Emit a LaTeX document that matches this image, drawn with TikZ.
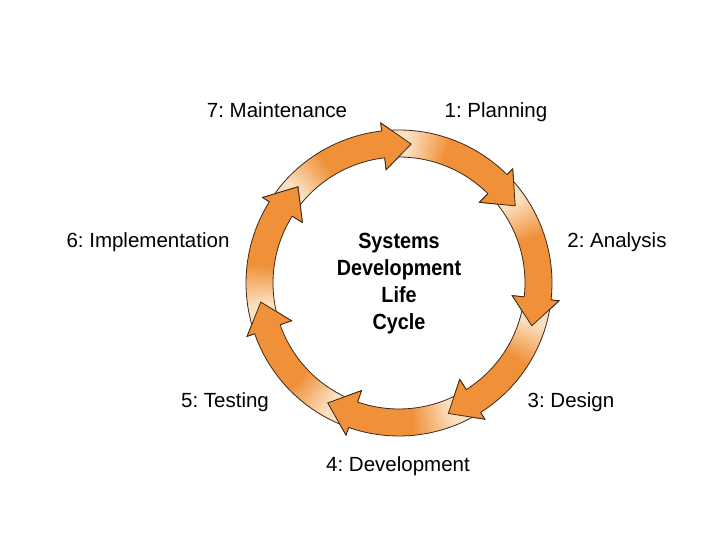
\documentclass[tikz,border=0pt]{standalone}
\usepackage{fontspec}
\setmainfont{Liberation Sans}
\newfontfamily\titlefont{Liberation Sans}[FakeStretch=0.9]
\usetikzlibrary{positioning}
\definecolor{sdlcorange}{RGB}{240,145,58}
\definecolor{sdlclight}{RGB}{251,224,192}
\definecolor{sdlcline}{RGB}{60,40,25}
% ring and arrow head radii
\newcommand\rin{126}
\newcommand\rout{153}
\newcommand\rmid{139.5}
\newcommand\bin{114}
\newcommand\bout{161}
\frenchspacing
\tikzset{
  phase/.style={font=\fontsize{20.5}{24}\selectfont, anchor=base, inner sep=0pt},
  title/.style={font=\titlefont\bfseries\fontsize{22}{27}\selectfont, align=center, inner sep=0pt},
  rim/.style={draw=sdlcline, line width=0.8pt, line join=miter},
}

\begin{document}
\begin{tikzpicture}[x=1pt,y=1pt]
  \useasboundingbox (0,0) rectangle (720,540);
  \fill[white] (0,0) rectangle (720,540);
  \coordinate (hub) at (399,257);

  % seven arrows, pale at the tail
  \begin{scope}[shift={(hub)}]
  \foreach \k in {0,...,6} {
    \pgfmathsetmacro\tip{85-\k*360/7}
    \pgfmathsetmacro\base{\tip+11.5}
    \pgfmathsetmacro\tail{\tip+61}
    \pgfmathsetmacro\solid{\tail-24}
    \fill[sdlcorange] (\solid:\rout) arc[start angle=\solid, end angle=\base, radius=\rout]
      -- (\base:\bout) -- (\tip:\rmid) -- (\base:\bin) -- (\base:\rin)
      arc[start angle=\base, end angle=\solid, radius=\rin] -- cycle;
    \foreach \i in {0,...,24} {
      \pgfmathsetmacro\pa{\tail-\i}
      \pgfmathsetmacro\pb{\tail-\i-1.3}
      \pgfmathtruncatemacro\pct{max(0,100*(\i-8)/16)}
      \fill[sdlcorange!\pct!sdlclight] (\pa:\rout) arc[start angle=\pa, end angle=\pb, radius=\rout]
        -- (\pb:\rin) arc[start angle=\pb, end angle=\pa, radius=\rin] -- cycle;
    }
    \draw[rim] (\tail:\rin) -- (\tail:\rout) arc[start angle=\tail, end angle=\base, radius=\rout]
      -- (\base:\bout) -- (\tip:\rmid) -- (\base:\bin) -- (\base:\rin)
      arc[start angle=\base, end angle=\tail, radius=\rin];
  }
  % heads again, over the next tail
  \foreach \k in {0,...,6} {
    \pgfmathsetmacro\tip{85-\k*360/7}
    \pgfmathsetmacro\base{\tip+11.5}
    \fill[sdlcorange] (\base:\rout) -- (\base:\bout) -- (\tip:\rmid) -- (\base:\bin) -- (\base:\rin) -- cycle;
    \draw[rim] (\base:\rout) -- (\base:\bout) -- (\tip:\rmid) -- (\base:\bin) -- (\base:\rin);
  }
  \end{scope}

  % labels
  \node[title] (sdlc) at (399,256) {Systems\\Development\\Life\\Cycle};
  \node[phase] (plan) at (496,422) {1: Planning};
  \node[phase] (analysis) at (617,292) {2: Analysis};
  \node[phase] (design) at (571,132) {3: Design};
  \node[phase] (devel) at (398,68) {4: Development};
  \node[phase] (testing) at (225,132) {5: Testing};
  \node[phase] (impl) at (148,292) {6: Implementation};
  \node[phase] (maint) at (277,422) {7: Maintenance};
\end{tikzpicture}
\end{document}
